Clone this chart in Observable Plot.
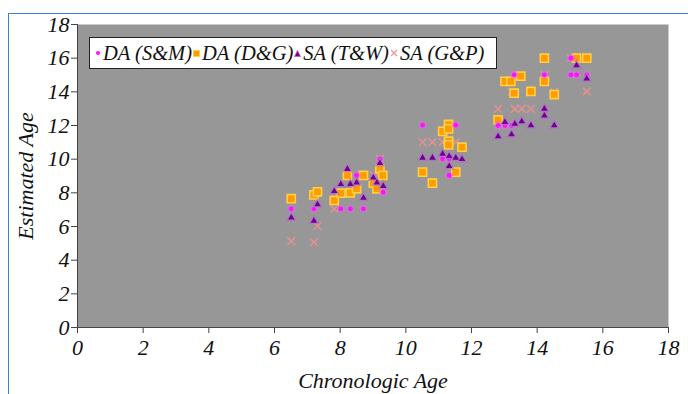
<!DOCTYPE html>
<html>
<head>
<meta charset="utf-8">
<script src="https://cdn.jsdelivr.net/npm/d3@7"></script>
<script src="https://cdn.jsdelivr.net/npm/@observablehq/plot@0.6"></script>
<style>
  html, body { margin: 0; padding: 0; background: #fff; }
  #wrap { position: relative; width: 688px; height: 394px; overflow: hidden; }
  #border { position: absolute; left: 8px; top: 13px; right: 0; bottom: 0;
            border-left: 1.5px solid #3f7fcf; border-top: 1.5px solid #3f7fcf; }
  #chart { position: absolute; left: 0; top: 0; }
  #chart svg text { font-family: "Liberation Serif", "Times New Roman", serif; }
  #legend { position: absolute; left: 89px; top: 37px; height: 30px; padding: 0 12px 0 4px;
            background: #fff; border: 1px solid #222; display: flex; align-items: center;
            font-family: "Liberation Serif", "Times New Roman", serif; font-style: italic;
            font-size: 20.5px; color: #111; white-space: nowrap; }
  #legend .it { display: flex; align-items: center; }
  #legend svg { margin: 0 2px 0 1px; }
</style>
</head>
<body>
<div id="wrap">
  <div id="border"></div>
  <div id="chart"></div>
  <div id="legend"></div>
</div>
<script>
// Series names
const seriesNames = ["DA (S&M)", "DA (D&G)", "SA (T&W)", "SA (G&P)"];

// DA (S&M) — magenta circles
const smX = [6.51, 7.2, 8.02, 8.31, 8.71, 8.5, 9.21, 9.31, 10.51, 11.52, 11.12, 11.32, 11.32, 12.81, 13.02, 13.22, 13.3, 14.22, 15.03, 15.2, 15.51, 15.03];
const smY = [7.05, 7.05, 7.05, 7.05, 7.05, 9.03, 10.0, 8.04, 12.02, 12.02, 10.02, 10.02, 9.03, 12.0, 12.0, 12.0, 15.01, 15.01, 15.01, 15.01, 15.01, 16.0];

// DA (D&G) — orange squares
const dgX = [6.51, 7.2, 7.31, 7.82, 8.02, 8.22, 8.31, 8.5, 8.71, 9.01, 9.12, 9.21, 9.3, 10.51, 10.81, 11.12, 11.3, 11.3, 11.3, 11.3, 11.52, 11.71, 12.81, 13.02, 13.2, 13.3, 13.5, 13.81, 14.22, 14.22, 14.52, 15.2, 15.51];
const dgY = [7.65, 7.88, 8.06, 7.55, 7.98, 9.03, 8.0, 8.24, 9.03, 8.57, 8.24, 9.43, 9.03, 9.23, 8.57, 11.65, 12.06, 11.8, 11.07, 10.85, 9.23, 10.71, 12.34, 14.62, 14.62, 13.92, 14.93, 14.02, 16.0, 14.62, 13.84, 16.0, 16.0];

// SA (T&W) — purple triangles
const twX = [6.51, 7.2, 7.31, 7.82, 8.02, 8.22, 8.31, 8.5, 8.71, 9.01, 9.12, 9.21, 9.31, 10.51, 10.81, 11.12, 11.32, 11.52, 11.71, 11.32, 12.81, 13.02, 13.22, 13.32, 13.53, 13.81, 14.22, 14.22, 14.52, 15.2, 15.51];
const twY = [6.52, 6.34, 7.31, 8.1, 8.51, 9.41, 8.51, 8.6, 7.7, 8.9, 8.6, 9.76, 8.4, 10.08, 10.08, 10.32, 10.18, 10.08, 10.0, 9.58, 11.35, 12.2, 11.47, 12.1, 12.24, 12.0, 12.99, 12.58, 12.0, 15.57, 14.78];

// SA (G&P) — pink crosses
const gpX = [6.51, 7.2, 7.31, 7.82, 8.31, 8.71, 9.03, 9.14, 9.21, 10.51, 10.81, 11.12, 11.32, 11.52, 12.81, 13.22, 13.32, 13.53, 13.81, 14.22, 14.52, 15.03, 15.51];
const gpY = [5.13, 5.07, 6.02, 7.05, 8.0, 9.03, 9.03, 9.03, 10.02, 11.01, 11.01, 11.01, 11.01, 11.01, 12.99, 13.98, 12.99, 12.99, 12.99, 15.01, 13.98, 16.0, 14.02];

// Axis ticks
const xTicks = [0, 2, 4, 6, 8, 10, 12, 14, 16, 18];
const yTicks = [0, 2, 4, 6, 8, 10, 12, 14, 16, 18];

const zip = (xs, ys) => xs.map((x, i) => ({x, y: ys[i]}));
const sm = zip(smX, smY), dg = zip(dgX, dgY), tw = zip(twX, twY), gp = zip(gpX, gpY);

const font = "Liberation Serif";

const chart = Plot.plot({
  width: 688,
  height: 394,
  marginLeft: 77,
  marginRight: 20,
  marginTop: 24,
  marginBottom: 67,
  style: {background: "transparent", overflow: "visible"},
  x: {domain: [0, 18]},
  y: {domain: [0, 18]},
  marks: [
    Plot.frame({fill: "#979797", stroke: null}),
    Plot.ruleY([0], {stroke: "#444", strokeWidth: 1}),
    Plot.ruleX([0], {stroke: "#444", strokeWidth: 1}),
    Plot.axisX({ticks: xTicks, tickSize: 6, tickPadding: 6, fontSize: 22, fontStyle: "italic", fontFamily: font,
                fill: "#111", stroke: "#444", label: "Chronologic Age", labelAnchor: "center",
                labelOffset: 60, labelArrow: "none"}),
    Plot.axisY({ticks: yTicks, tickSize: 6, tickPadding: 2, fontSize: 22, fontStyle: "italic", fontFamily: font,
                fill: "#111", stroke: "#444", label: "Estimated Age", labelAnchor: "center",
                labelOffset: 60, labelArrow: "none"}),
    // SA (G&P) crosses
    Plot.dot(gp, {x: "x", y: "y", symbol: "times", r: 3.6, stroke: "#f09090", strokeWidth: 1.6, strokeOpacity: 0.85}),
    // DA (D&G) squares
    Plot.dot(dg, {x: "x", y: "y", symbol: "square", r: 4.6, fill: "#ff9a00", stroke: "#ffd040", strokeWidth: 1.6}),
    // DA (S&M) circles
    Plot.dot(sm, {x: "x", y: "y", symbol: "circle", r: 4, fill: "#e070e0", fillOpacity: 0.55, stroke: "none"}),
    Plot.dot(sm, {x: "x", y: "y", symbol: "circle", r: 2.4, fill: "#ff10ff", stroke: "none"}),
    // SA (T&W) triangles
    Plot.dot(tw, {x: "x", y: "y", symbol: "triangle", r: 4.2, fill: "#b070c8", fillOpacity: 0.7, stroke: "none"}),
    Plot.dot(tw, {x: "x", y: "y", symbol: "triangle", r: 2.4, fill: "#700090", stroke: "none"})
  ]
});
document.getElementById("chart").appendChild(chart);

// Legend
const markerSvgs = [
  `<svg width="6" height="6"><circle cx="3" cy="3" r="2" fill="#ff10ff"/></svg>`,
  `<svg width="7" height="7"><rect x="0.5" y="0.5" width="6" height="6" fill="#ff9a00" stroke="#ffd040"/></svg>`,
  `<svg width="7" height="7"><path d="M3.5,0.5 L6.5,6.5 L0.5,6.5 Z" fill="#700090" stroke="#b070c8"/></svg>`,
  `<svg width="8" height="8"><path d="M1,1 L7,7 M7,1 L1,7" stroke="#f09090" stroke-width="1.2"/></svg>`
];
const legend = document.getElementById("legend");
seriesNames.forEach((name, i) => {
  const it = document.createElement("span");
  it.className = "it";
  it.innerHTML = markerSvgs[i] + `<span>${name.replace("&", "&amp;")}</span>`;
  legend.appendChild(it);
});
</script>
</body>
</html>
